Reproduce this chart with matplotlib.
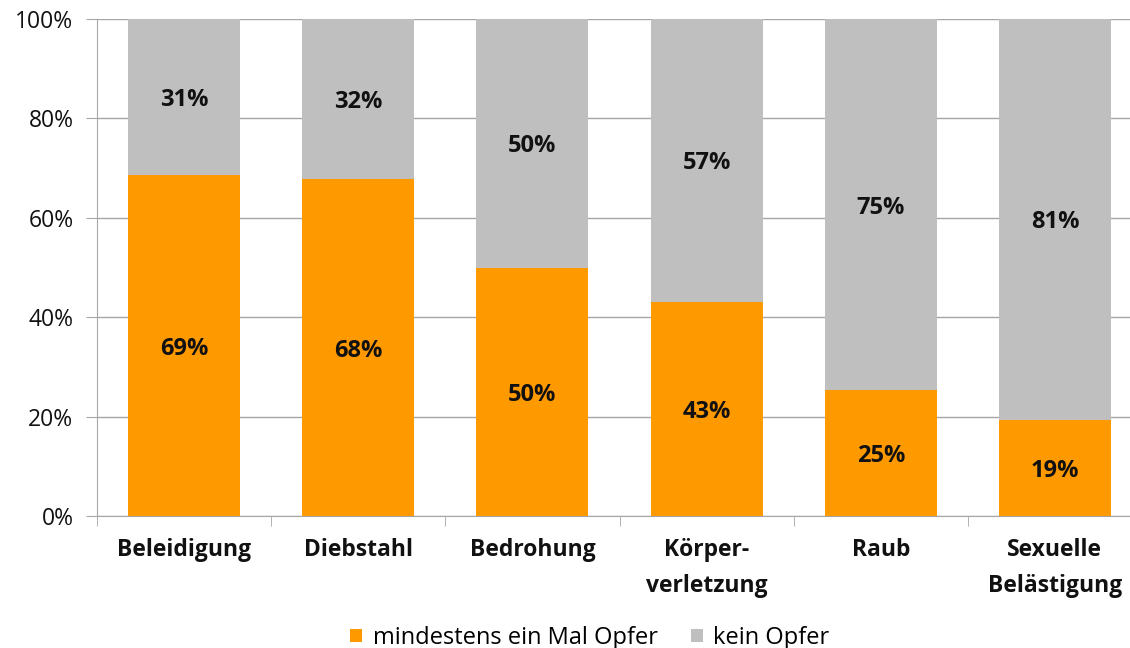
import matplotlib
matplotlib.use("Agg")
import matplotlib.pyplot as plt
import numpy as np

plt.rcParams['font.family'] = ['Open Sans', 'DejaVu Sans']

categories = ["Beleidigung", "Diebstahl", "Bedrohung", "Körper-\nverletzung", "Raub", "Sexuelle\nBelästigung"]
opfer = [68.6, 67.8, 49.9, 43.1, 25.3, 19.4]
kein_opfer = [31.4, 32.2, 50.1, 56.9, 74.7, 80.6]
series_names = ["mindestens ein Mal Opfer", "kein Opfer"]
colors = ["#FF9900", "#BFBFBF"]

fig = plt.figure(figsize=(11.3, 6.48), dpi=100)
ax = fig.add_axes([97/1130, 1 - 516/648, (1142-97)/1130, (516-19)/648])

x = np.arange(len(categories))
w = 0.644
b1 = ax.bar(x, opfer, w, color=colors[0], label=series_names[0], zorder=3)
b2 = ax.bar(x, kein_opfer, w, bottom=opfer, color=colors[1], label=series_names[1], zorder=3)

fs = 16.5
dfs = 17
for i in range(len(categories)):
    ax.text(x[i], opfer[i] / 2, f"{round(opfer[i]):.0f}%", ha='center', va='center_baseline',
            fontsize=dfs, fontweight='bold', color='#111111', zorder=4)
    ax.text(x[i], opfer[i] + kein_opfer[i] / 2, f"{round(kein_opfer[i]):.0f}%", ha='center', va='center_baseline',
            fontsize=dfs, fontweight='bold', color='#111111', zorder=4)

ax.set_xlim(-0.5, len(categories) - 0.5)
ax.set_ylim(0, 100)
ax.set_yticks([0, 20, 40, 60, 80, 100])
ax.set_yticklabels([f"{v}%" for v in [0, 20, 40, 60, 80, 100]], fontsize=fs, color='#111111')
ax.yaxis.grid(True, color='#A6A6A6', linewidth=1, zorder=0)
ax.set_axisbelow(True)

ax.set_xticks(x)
ax.set_xticklabels(categories, fontsize=fs, fontweight='bold', color='#111111', linespacing=1.65)
ax.tick_params(axis='x', length=0, pad=16)
ax.set_xticks(np.arange(-0.5, len(categories) + 0.5, 1), minor=True)
ax.tick_params(axis='x', which='minor', length=7, color='#A6A6A6', direction='out')
ax.tick_params(axis='y', length=8, color='#A6A6A6', pad=9)

for s in ['top', 'right']:
    ax.spines[s].set_visible(False)
ax.spines['left'].set_color('#A6A6A6')
ax.spines['bottom'].set_color('#A6A6A6')

fig.legend(handles=[b1, b2], labels=series_names, loc='lower center', bbox_to_anchor=(0.522, -0.036),
           ncol=2, frameon=False, fontsize=17, handlelength=0.5, handleheight=0.5,
           columnspacing=1.4, handletextpad=0.45)

fig.savefig("out.png", dpi=100)
